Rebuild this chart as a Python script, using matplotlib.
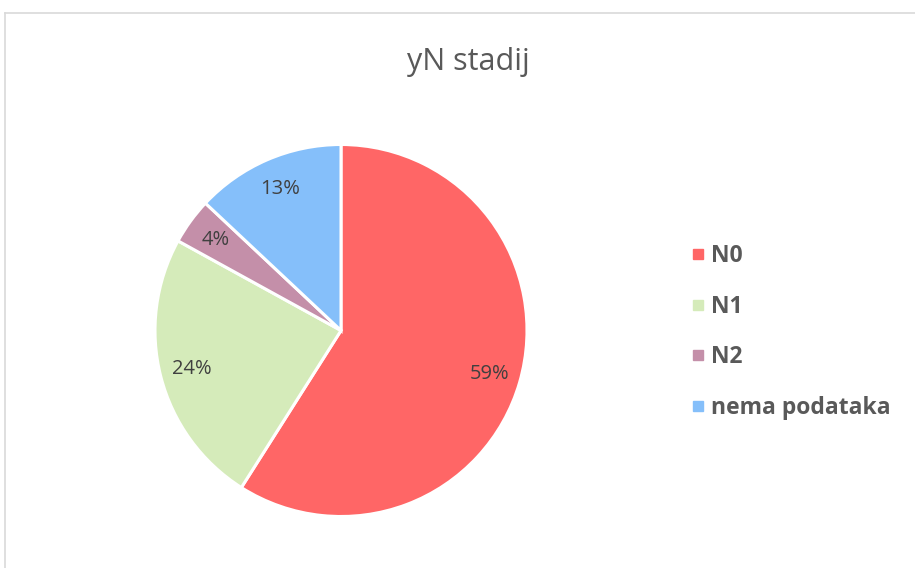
import matplotlib
matplotlib.use("Agg")
import matplotlib.pyplot as plt
from matplotlib.lines import Line2D

categories = ["N0", "N1", "N2", "nema podataka"]
values = [59, 24, 4, 13]
colors = ["#FF6666", "#D5EBBA", "#C48FA9", "#85BFFA"]
title = "yN stadij"

W, H = 915, 568
fig = plt.figure(figsize=(W / 100, H / 100), dpi=100)
fig.patch.set_facecolor("white")

# chart frame (top and left edges visible)
fig.add_artist(Line2D([4.5 / W, 4.5 / W], [0, 1 - 13 / H], transform=fig.transFigure,
                      color="#D9D9D9", lw=1.2))
fig.add_artist(Line2D([4.5 / W, 1], [1 - 13 / H, 1 - 13 / H], transform=fig.transFigure,
                      color="#D9D9D9", lw=1.2))

cx, cy, r = 341, 330.5, 186
ax = fig.add_axes([(cx - r) / W, (H - cy - r) / H, 2 * r / W, 2 * r / H])
wedges, texts, autotexts = ax.pie(
    values, colors=colors, startangle=90, counterclock=False,
    autopct="%1.0f%%", pctdistance=0.83, radius=1,
    wedgeprops=dict(edgecolor="white", linewidth=2.2),
    textprops=dict(color="#404040", fontsize=14.5, family="Open Sans"))
ax.set_xlim(-1, 1)
ax.set_ylim(-1, 1)
ax.set_aspect("equal")
ax.axis("off")

fig.text(468 / W, 1 - 62 / H, title, ha="center", va="center",
         fontsize=22, color="#595959", family="Open Sans")

handles = [Line2D([0], [0], marker="s", linestyle="none", markersize=7,
                  markerfacecolor=c, markeredgecolor=c) for c in colors]
leg = fig.legend(handles, categories, loc="center left",
                 bbox_to_anchor=(692 / W, 1 - 332 / H), frameon=False,
                 borderaxespad=0, borderpad=0,
                 handlelength=0.5, handletextpad=0.35, labelspacing=1.15,
                 prop=dict(family="Open Sans", weight="bold", size=16.5))
for t in leg.get_texts():
    t.set_color("#595959")

fig.savefig("out.png", dpi=100, facecolor="white")
